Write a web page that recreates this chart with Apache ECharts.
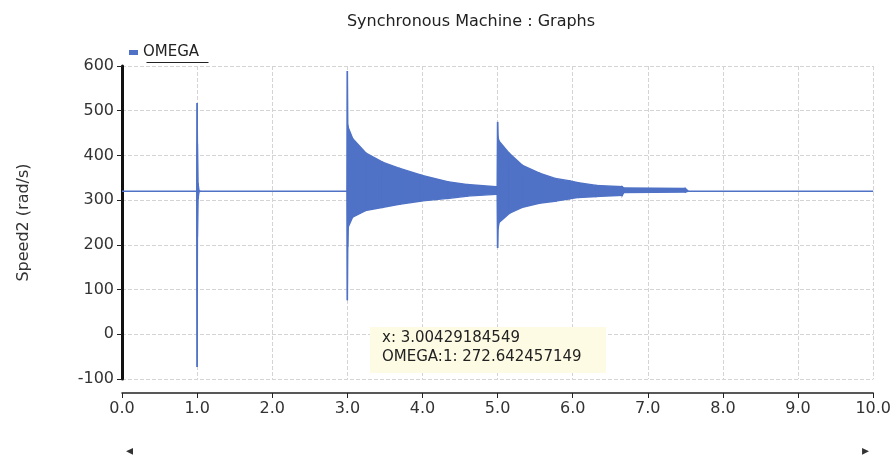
<!DOCTYPE html>
<html style="height: 100%">
  <head>
    <meta charset="UTF-8" />
    <title>ECharts</title>
    <script src="https://cdn.jsdelivr.net/npm/echarts/dist/echarts.min.js"></script>
  </head>
  <body style="height: 100%; margin: 0; background: #fff">
    <div id="main" style="width: 894px; height: 459px"></div>
    <script>
      // envelope of OMEGA (time in s, speed in rad/s)
      var times = [0, 0.995, 1.0, 1.004, 1.012, 1.025, 1.04, 2.995, 3.0, 3.005, 3.012, 3.07, 3.25, 3.47, 3.7, 3.98,
        4.34, 4.6, 4.97, 4.995, 5.0, 5.006, 5.02, 5.16, 5.33, 5.56, 5.78, 5.96, 6.08, 6.31, 6.66, 6.68, 7.5, 7.54, 10.0];
      var upper = [320, 320, 517, 426, 338, 321, 320, 320, 589, 467, 462, 438, 405, 385, 371, 356,
        341, 335, 330, 330, 475, 440, 432, 404, 378, 360, 348, 343, 339, 333, 330, 327, 326, 320, 320];
      var lower = [320, 320, -73, 217, 302, 319, 320, 320, 76, 195, 240, 262, 277, 284, 291, 298,
        304, 309, 313, 313, 193, 236, 250, 271, 284, 293, 298, 303, 306, 308, 311, 317, 318, 320, 320];
      var yTicks = [-100, 0, 100, 200, 300, 400, 500, 600];

      var lineColor = '#4f72c6';
      var chartDom = document.getElementById('main');
      var myChart = echarts.init(chartDom);

      // one quad per segment between consecutive envelope samples
      var segments = [];
      for (var i = 0; i < times.length - 1; i++) {
        segments.push([times[i], lower[i], upper[i], times[i + 1], lower[i + 1], upper[i + 1]]);
      }

      function renderBand(params, api) {
        var a = api.coord([api.value(0), api.value(1)]);
        var b = api.coord([api.value(0), api.value(2)]);
        var c = api.coord([api.value(3), api.value(5)]);
        var d = api.coord([api.value(3), api.value(4)]);
        return {
          type: 'polygon',
          shape: { points: [a, b, c, d] },
          style: { fill: lineColor, stroke: lineColor, lineWidth: 1.4 }
        };
      }

      var font = 'DejaVu Sans';
      var option = {
        animation: false,
        color: [lineColor],
        title: {
          text: 'Synchronous Machine : Graphs',
          left: 466,
          textAlign: 'center',
          top: 9,
          textStyle: { fontFamily: font, fontSize: 16, fontWeight: 'normal', color: '#222' }
        },
        legend: {
          left: 124,
          top: 40,
          icon: 'rect',
          itemWidth: 9,
          itemHeight: 5,
          itemGap: 6,
          textStyle: { fontFamily: font, fontSize: 15, color: '#222' },
          data: ['OMEGA']
        },
        grid: { left: 122, right: 18, top: 66, bottom: 80 },
        xAxis: {
          type: 'value',
          min: 0,
          max: 10,
          interval: 1,
          offset: 14,
          axisLine: { onZero: false, lineStyle: { color: '#222', width: 1.5 } },
          axisTick: { show: true, length: 5, lineStyle: { color: '#222' } },
          axisLabel: {
            fontFamily: font,
            fontSize: 16,
            color: '#333',
            margin: 8,
            formatter: function (v) { return v.toFixed(1); }
          },
          splitLine: { show: true, lineStyle: { color: '#d4d4d4', type: 'dashed' } }
        },
        yAxis: {
          type: 'value',
          min: yTicks[0],
          max: yTicks[yTicks.length - 1],
          interval: 100,
          name: 'Speed2 (rad/s)',
          nameLocation: 'middle',
          nameGap: 90,
          nameTextStyle: { fontFamily: font, fontSize: 16, color: '#333' },
          axisLine: { show: true, lineStyle: { color: '#111', width: 3 } },
          axisTick: { show: true, length: 5, lineStyle: { color: '#222' } },
          axisLabel: { fontFamily: font, fontSize: 16, color: '#333', margin: 8 },
          splitLine: { show: true, lineStyle: { color: '#d4d4d4', type: 'dashed' } }
        },
        graphic: [
          { type: 'line', left: 144, top: 60, shape: { x1: 0, y1: 0, x2: 62, y2: 0 }, style: { stroke: '#222', lineWidth: 1 } },
          {
            type: 'group',
            left: 370,
            top: 327,
            children: [
              { type: 'rect', z: 100, shape: { x: 0, y: 0, width: 236, height: 46 }, style: { fill: '#fdfbe4' } },
              { type: 'text', z: 101, x: 12, y: 4, style: { text: 'x: 3.00429184549', font: '15px "DejaVu Sans"', fill: '#222' } },
              { type: 'text', z: 101, x: 12, y: 23, style: { text: 'OMEGA:1: 272.642457149', font: '15px "DejaVu Sans"', fill: '#222' } }
            ]
          },
          { type: 'text', left: 126, top: 444, style: { text: '\u25C2', font: '14px "DejaVu Sans"', fill: '#333' } },
          { type: 'text', left: 862, top: 444, style: { text: '\u25B8', font: '14px "DejaVu Sans"', fill: '#333' } }
        ],
        series: [
          {
            name: 'OMEGA',
            type: 'custom',
            renderItem: renderBand,
            encode: { x: [0, 3], y: [1, 2, 4, 5] },
            itemStyle: { color: lineColor },
            data: segments
          }
        ]
      };

      myChart.setOption(option);
    </script>
  </body>
</html>
